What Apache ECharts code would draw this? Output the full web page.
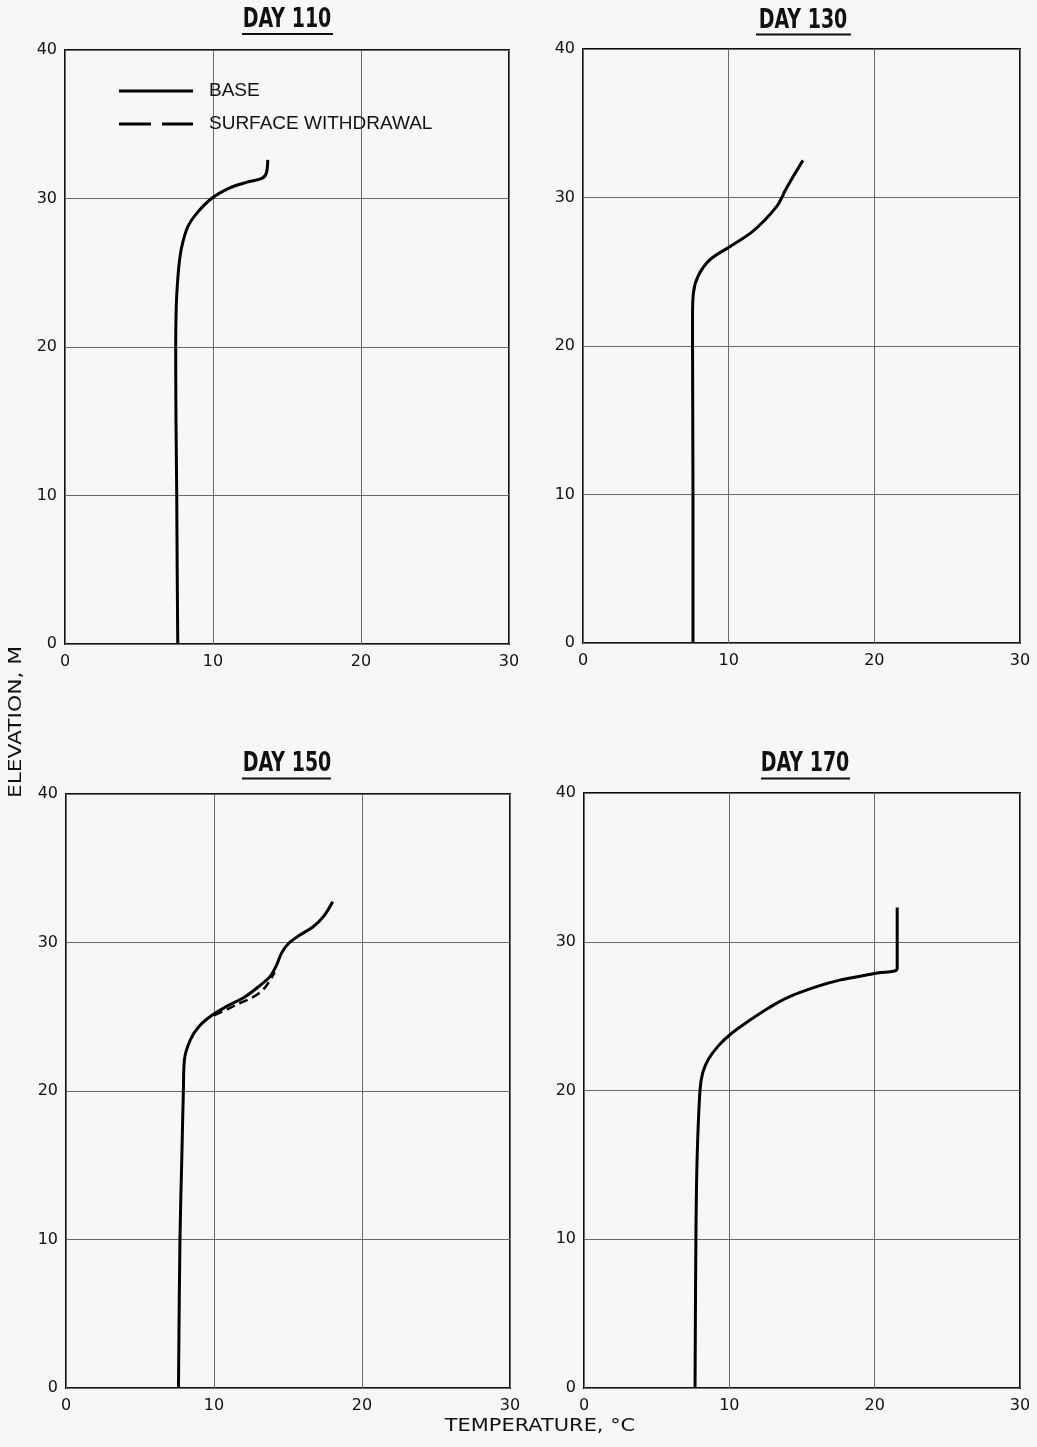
<!DOCTYPE html>
<html>
<head>
<meta charset="utf-8">
<script src="https://cdn.jsdelivr.net/npm/echarts@6/dist/echarts.min.js"></script>
<style>
html,body{margin:0;padding:0;background:#f7f7f7;}
#chart{width:1037px;height:1447px;}
</style>
</head>
<body>
<div id="chart"></div>
<script>
// Panel titles
const panelTitles = ['DAY 110', 'DAY 130', 'DAY 150', 'DAY 170'];
const xTickValues = [0, 10, 20, 30];
const yTickValues = [0, 10, 20, 30, 40];
const legendNames = ['BASE', 'SURFACE WITHDRAWAL'];

// [temperature °C, elevation m]
const day110Base = [[7.62,0],[7.58,5],[7.55,10],[7.5,15],[7.48,20],[7.5,22],[7.55,23.5],[7.7,25.5],[7.9,26.8],[8.3,28.1],[8.9,29.0],[9.9,30.0],[11.1,30.7],[12.3,31.1],[13.3,31.35],[13.6,31.7],[13.7,32.6]];
const day130Base = [[7.55,0],[7.55,10],[7.52,20],[7.52,22],[7.57,23.5],[7.9,24.7],[8.7,25.8],[10.1,26.7],[11.5,27.6],[12.5,28.5],[13.3,29.4],[13.6,29.9],[13.9,30.5],[14.3,31.2],[15.1,32.5]];
const day150Base = [[7.6,0],[7.7,10],[7.82,15.3],[7.93,20],[8.0,22.1],[8.38,23.4],[8.94,24.3],[9.86,25.1],[10.86,25.7],[12.1,26.35],[13.1,27.1],[13.78,27.7],[14.19,28.4],[14.57,29.3],[15.05,29.95],[15.8,30.5],[16.7,31.06],[17.39,31.74],[18.02,32.75]];
const day150Surface = [[10.0,25.1],[11.0,25.55],[11.7,25.9],[12.6,26.3],[13.3,26.8],[13.75,27.4],[14.1,28.0]];
const day170Base = [[7.64,0],[7.7,10],[7.78,15.3],[7.98,20],[8.17,21.2],[8.56,22.1],[9.24,23.0],[10.1,23.8],[11.4,24.72],[12.7,25.55],[14.0,26.25],[16.0,26.98],[17.6,27.42],[20.2,27.9],[21.55,28.2],[21.55,28.2],[21.55,32.3]];

const chart = echarts.init(document.getElementById('chart'), null, {renderer: 'canvas'});

const gridBoxes = [
  {left: 65, top: 50, width: 444, height: 594},
  {left: 583, top: 49, width: 437, height: 594},
  {left: 66, top: 794, width: 444, height: 594},
  {left: 584, top: 793, width: 436, height: 595}
];

const grids = gridBoxes.map(b => Object.assign({
  show: true, borderColor: '#111', borderWidth: 2, backgroundColor: 'transparent'
}, b));

const labelStyle = {fontFamily: 'DejaVu Sans', fontSize: 16, color: '#111'};
const splitStyle = {show: true, lineStyle: {color: '#6a6a6a', width: 1}};

const xAxes = gridBoxes.map((b, i) => ({
  type: 'value', gridIndex: i, min: xTickValues[0], max: xTickValues[xTickValues.length - 1], interval: 10,
  axisLine: {show: false}, axisTick: {show: false}, splitLine: splitStyle,
  axisLabel: Object.assign({margin: 10}, labelStyle)
}));
const yAxes = gridBoxes.map((b, i) => ({
  type: 'value', gridIndex: i, min: yTickValues[0], max: yTickValues[yTickValues.length - 1], interval: 10,
  axisLine: {show: false}, axisTick: {show: false}, splitLine: splitStyle,
  axisLabel: Object.assign({margin: 8}, labelStyle)
}));

function baseSeries(data, idx) {
  return {
    name: legendNames[0], type: 'line', xAxisIndex: idx, yAxisIndex: idx,
    data: data, symbol: 'none', smooth: 0.35, silent: true,
    lineStyle: {color: '#000', width: 3}, itemStyle: {color: '#000'}, z: 3
  };
}

const series = [
  baseSeries(day110Base, 0),
  baseSeries(day130Base, 1),
  baseSeries(day150Base, 2),
  baseSeries(day170Base, 3),
  {
    name: legendNames[1], type: 'line', xAxisIndex: 2, yAxisIndex: 2,
    data: day150Surface, symbol: 'none', smooth: 0.35, silent: true,
    lineStyle: {color: '#000', width: 2.5, type: [9, 5]}, itemStyle: {color: '#000'}, z: 2
  }
];

const titleCenters = [[287, 20], [803, 21], [287, 764], [805, 764]];
const underlines = [[242, 333, 34], [756, 851, 34.5], [242, 331, 778.5], [761, 850, 778.5]];

const graphics = [];
panelTitles.forEach((t, i) => {
  graphics.push({
    type: 'text', x: titleCenters[i][0], y: titleCenters[i][1], scaleX: 0.73,
    style: {text: t, font: 'bold 26px "DejaVu Sans"', fill: '#111', textAlign: 'center', textVerticalAlign: 'middle'}
  });
  graphics.push({
    type: 'line', shape: {x1: underlines[i][0], y1: underlines[i][2], x2: underlines[i][1], y2: underlines[i][2]},
    style: {stroke: '#111', lineWidth: 2}
  });
});
graphics.push({
  type: 'text', x: 17, y: 722, rotation: Math.PI / 2, scaleX: 1.28,
  style: {text: 'ELEVATION, M', font: '17px "DejaVu Sans"', fill: '#111', textAlign: 'center', textVerticalAlign: 'middle'}
});
graphics.push({
  type: 'text', x: 540, y: 1427, scaleX: 1.23,
  style: {text: 'TEMPERATURE, °C', font: '17px "DejaVu Sans"', fill: '#111', textAlign: 'center', textVerticalAlign: 'middle'}
});

const option = {
  backgroundColor: '#f7f7f7',
  animation: false,
  grid: grids,
  xAxis: xAxes,
  yAxis: yAxes,
  legend: {
    orient: 'vertical', left: 114, top: 76, itemWidth: 74, itemHeight: 3, itemGap: 13,
    selectedMode: false,
    itemStyle: {color: '#000', borderWidth: 0},
    textStyle: {fontFamily: 'Liberation Sans', fontSize: 19, color: '#111', lineHeight: 20, padding: [0, 0, 0, 11]},
    data: [
      {name: legendNames[0], icon: 'path://M0,0h74v3h-74z'},
      {name: legendNames[1], icon: 'path://M0,0h32v3h-32zM43,0h31v3h-31z'}
    ]
  },
  graphic: graphics,
  series: series
};
chart.setOption(option);
</script>
</body>
</html>
